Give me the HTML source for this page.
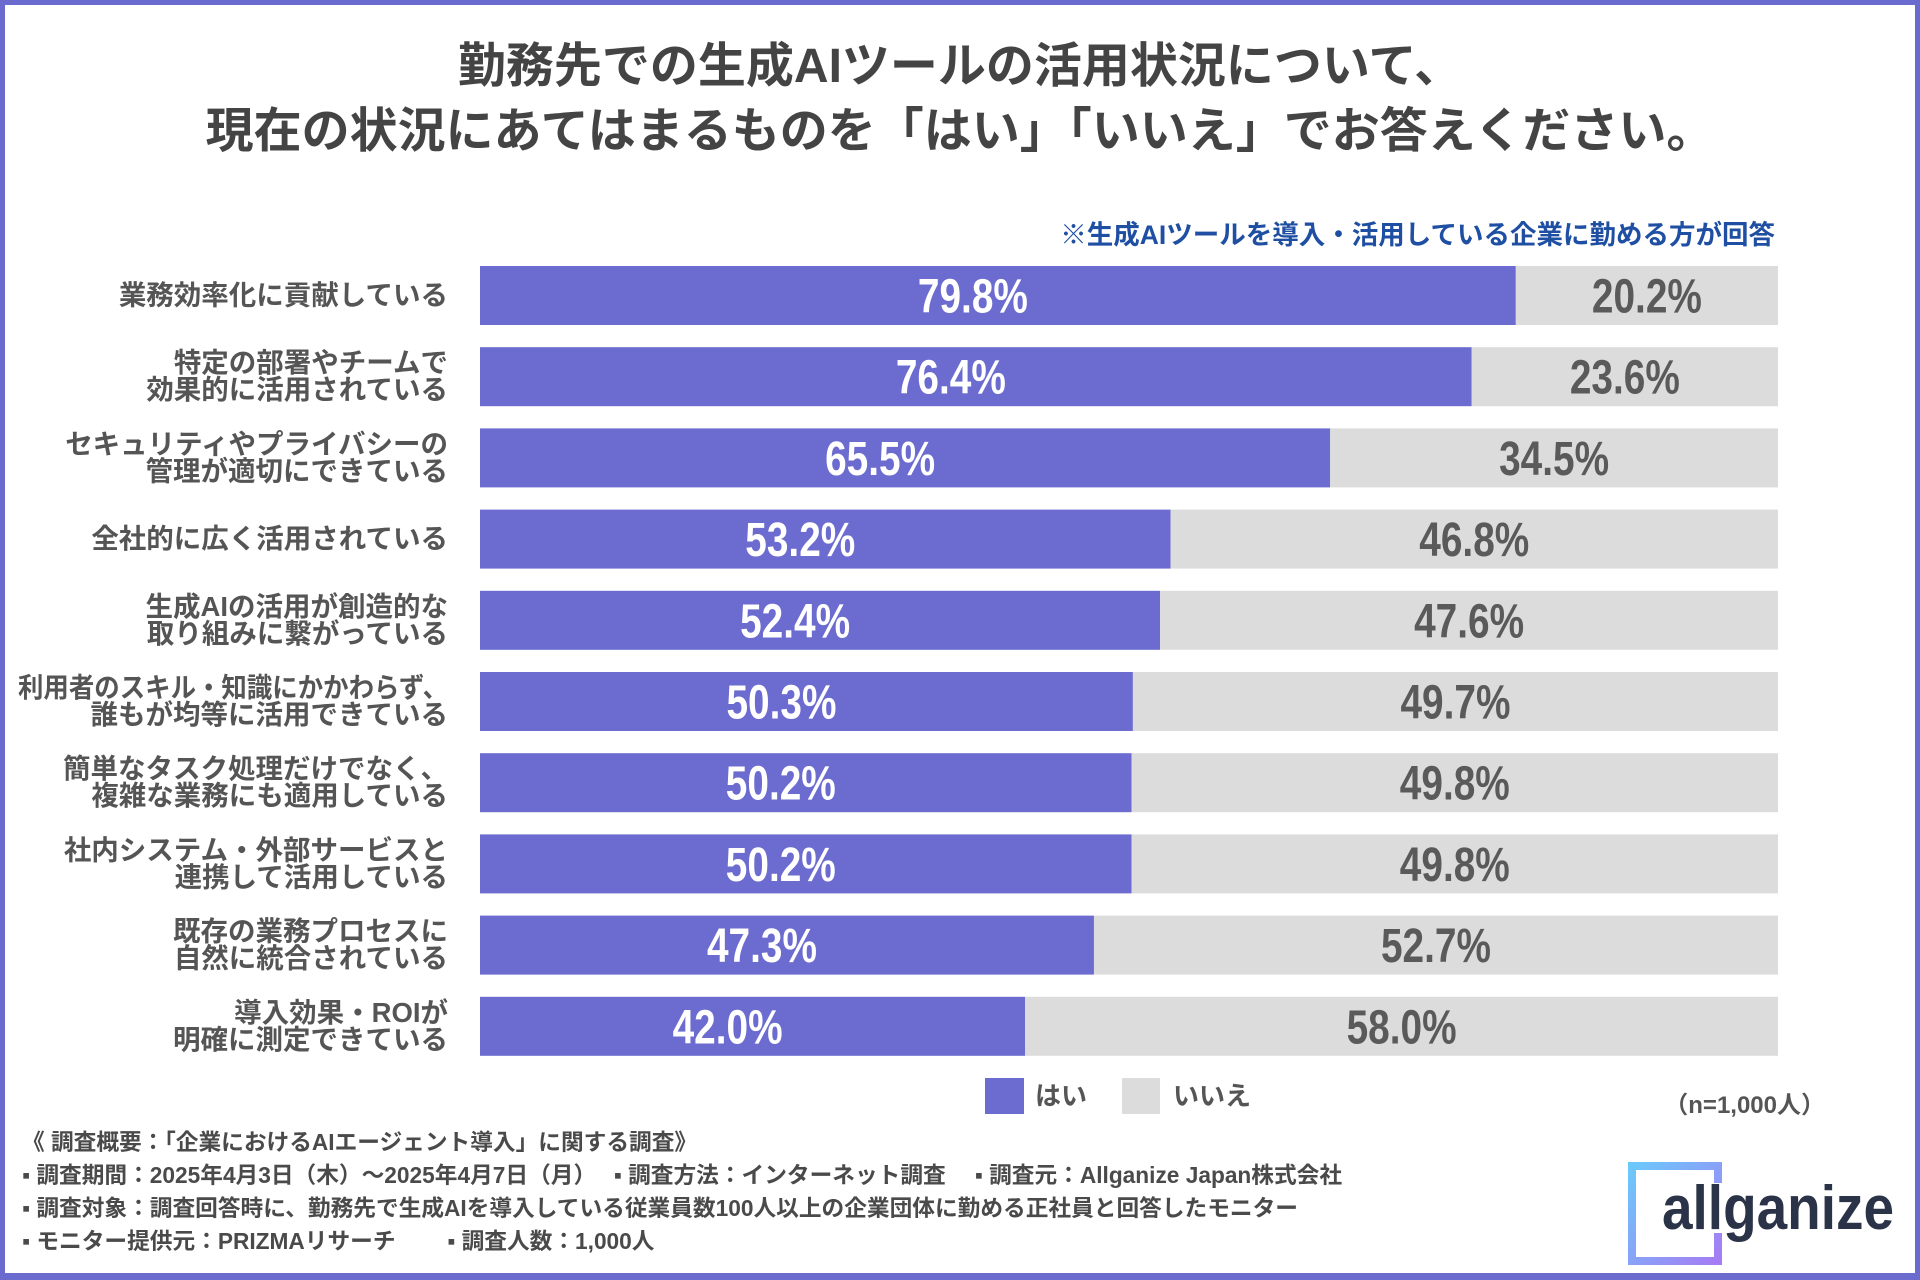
<!DOCTYPE html>
<html><head><meta charset="utf-8">
<style>
html,body{margin:0;padding:0;}
body{width:1920px;height:1280px;overflow:hidden;background:#fff;font-family:"Liberation Sans","Noto Sans CJK JP",sans-serif;}
#frame{position:absolute;left:0;top:0;width:1920px;height:1280px;box-sizing:border-box;border:5px solid #6b6bcf;border-bottom-width:7px;}
.t{position:absolute;white-space:nowrap;}
</style></head>
<body>
<div id="frame"></div>
<div class="t" style="left:0;width:1920px;top:34px;text-align:center;font-size:48px;font-weight:bold;color:#444;line-height:65px;">勤務先での生成AIツールの活用状況について、<br>現在の状況にあてはまるものを「はい」「いいえ」でお答えください。</div>
<div class="t" style="right:145px;top:213px;font-size:26.5px;font-weight:bold;color:#1f4fa3;">※生成AIツールを導入・活用している企業に勤める方が回答</div>
<svg id="chart" width="1920" height="1280" style="position:absolute;left:0;top:0;" xmlns="http://www.w3.org/2000/svg"></svg>
<div class="t" style="right:95px;top:1085px;font-size:24px;font-weight:bold;color:#555;">（n=1,000人）</div>
<div class="t" style="left:22px;top:1126px;font-size:22.7px;font-weight:bold;color:#4a4a4a;line-height:33px;">《 調査概要：「企業におけるAIエージェント導入」に関する調査》<br>▪ 調査期間：2025年4月3日（木）～2025年4月7日（月）　 ▪ 調査方法：インターネット調査　  ▪ 調査元：Allganize Japan株式会社<br>▪ 調査対象：調査回答時に、勤務先で生成AIを導入している従業員数100人以上の企業団体に勤める正社員と回答したモニター<br>▪ モニター提供元：PRIZMAリサーチ　　 ▪ 調査人数：1,000人</div>
<svg style="position:absolute;left:1620px;top:1155px;" width="280" height="118" xmlns="http://www.w3.org/2000/svg">
<defs><linearGradient id="lg" x1="0" y1="0" x2="1" y2="1"><stop offset="0" stop-color="#6cc8fb"/><stop offset="1" stop-color="#a57cf4"/></linearGradient></defs>
<path d="M98 28 V11 H12 V106 H98 V78" fill="none" stroke="url(#lg)" stroke-width="8"/>
<text x="42" y="74" font-family="Liberation Sans, sans-serif" font-weight="bold" font-size="62" fill="#2a3347" textLength="232" lengthAdjust="spacingAndGlyphs">allganize</text>
</svg>
<script>
const categories=["業務効率化に貢献している","特定の部署やチームで|効果的に活用されている","セキュリティやプライバシーの|管理が適切にできている","全社的に広く活用されている","生成AIの活用が創造的な|取り組みに繋がっている","利用者のスキル・知識にかかわらず、|誰もが均等に活用できている","簡単なタスク処理だけでなく、|複雑な業務にも適用している","社内システム・外部サービスと|連携して活用している","既存の業務プロセスに|自然に統合されている","導入効果・ROIが|明確に測定できている"];
const yesValues=[79.8,76.4,65.5,53.2,52.4,50.3,50.2,50.2,47.3,42.0];
const noValues=[20.2,23.6,34.5,46.8,47.6,49.7,49.8,49.8,52.7,58.0];
const legendLabels=["はい","いいえ"];
const svg=document.getElementById('chart');
const NS='http://www.w3.org/2000/svg';
const X0=480,X1=1778,Y0=266,PITCH=81.2,BH=59;
function xs(v){return X0+(X1-X0)*v/100;}
function ys(i){return Y0+i*PITCH;}
function mk(tag,attrs){const e=document.createElementNS(NS,tag);for(const k in attrs)e.setAttribute(k,attrs[k]);svg.appendChild(e);return e;}
categories.forEach((c,i)=>{
  const y=ys(i);
  const xm=xs(yesValues[i]);
  const xe=xs(yesValues[i]+noValues[i]);
  const r1=mk('rect',{x:X0,y:y,width:xm-X0,height:BH,fill:'#6b6bd0'});
  
  
  const r2=mk('rect',{x:xm,y:y,width:xe-xm,height:BH,fill:'#dcdcdc'});
  
  
  const t1=mk('text',{x:(X0+xm)/2-25-55,y:y+BH/2+17,'font-size':48,'font-weight':'bold',fill:'#fff','font-family':'Liberation Sans Narrow, Liberation Sans, sans-serif',textLength:110,lengthAdjust:'spacingAndGlyphs'});
  t1.textContent=yesValues[i].toFixed(1)+'%';
  
  
  const t2=mk('text',{x:(xm+xe)/2-55,y:y+BH/2+17,'font-size':48,'font-weight':'bold',fill:'#5a5a5a','font-family':'Liberation Sans Narrow, Liberation Sans, sans-serif',textLength:110,lengthAdjust:'spacingAndGlyphs'});
  t2.textContent=noValues[i].toFixed(1)+'%';
  
  
  const lines=c.split('|');
  lines.forEach((l,j)=>{
    const lt=mk('text',{x:448,y:y+BH/2+9+(j-(lines.length-1)/2)*27,'text-anchor':'end','font-size':27.5,'font-weight':'bold',fill:'#555','font-family':'Liberation Sans, Noto Sans CJK JP, sans-serif'});
    
    
    lt.textContent=l;
    if(lt.getComputedTextLength()>430){lt.setAttribute('textLength',430);lt.setAttribute('lengthAdjust','spacingAndGlyphs');}
  });
});
const lg1=mk('rect',{x:985,y:1078,width:39,height:36,fill:'#6b6bd0'});


const lt1=mk('text',{x:1035,y:1105,'font-size':26,'font-weight':'bold',fill:'#555','font-family':'Liberation Sans, Noto Sans CJK JP, sans-serif'});
lt1.textContent=legendLabels[0];


const lg2=mk('rect',{x:1122,y:1078,width:38,height:36,fill:'#dcdcdc'});


const lt2=mk('text',{x:1173,y:1105,'font-size':26,'font-weight':'bold',fill:'#555','font-family':'Liberation Sans, Noto Sans CJK JP, sans-serif'});
lt2.textContent=legendLabels[1];


</script>
</body></html>
